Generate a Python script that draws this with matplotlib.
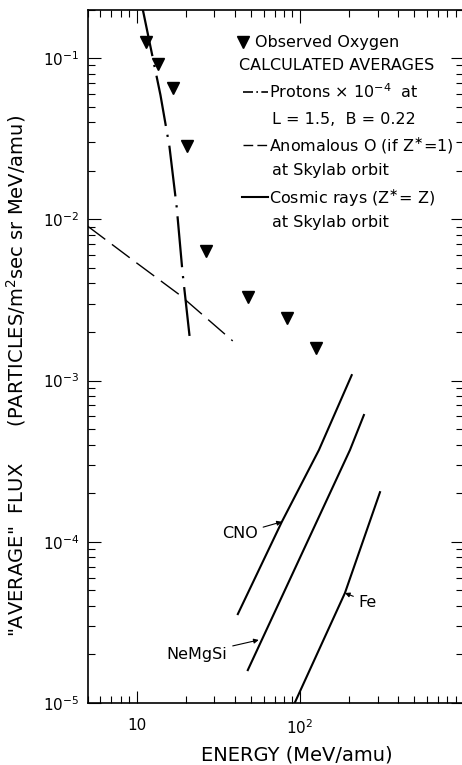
import numpy as np
import matplotlib
matplotlib.use('Agg')
import matplotlib.pyplot as plt
from matplotlib.lines import Line2D
from matplotlib.ticker import FixedLocator, LogLocator, NullFormatter

plt.rcParams['font.family'] = 'DejaVu Sans'
plt.rcParams['mathtext.default'] = 'regular'

# observed oxygen (triangles)
oxy_energy = [11.4, 13.6, 16.6, 20.3, 26.5, 48.0, 83.2, 125.0]
oxy_flux = [0.126, 0.092, 0.065, 0.0284, 0.0064, 0.0033, 0.00243, 0.0016]

# protons x 1e-4 at L=1.5, B=0.22
proton_energy = [10.8, 14.0, 15.9, 17.6, 19.1, 21.1]
proton_flux = [0.21, 0.0589, 0.0281, 0.0119, 0.00471, 0.00189]

# anomalous O (if Z*=1)
anom_energy = [5.0, 10.0, 18.4, 38.8]
anom_flux = [0.00908, 0.00536, 0.00339, 0.00176]

# cosmic rays (Z*=Z)
cno_energy = [41.7, 77.6, 131.0, 208.0]
cno_flux = [3.56e-5, 1.33e-4, 3.71e-4, 1.08e-3]
nemgsi_energy = [48.0, 203.0, 247.0]
nemgsi_flux = [1.60e-5, 3.71e-4, 6.11e-4]
fe_energy = [93.0, 189.0, 310.0]
fe_flux = [1.0e-5, 4.81e-5, 2.03e-4]

x_ticks = [10, 100]
x_ticklabels = ['10', r'$10^2$']
y_ticks = [1e-5, 1e-4, 1e-3, 1e-2, 1e-1]
y_ticklabels = [r'$10^{-5}$', r'$10^{-4}$', r'$10^{-3}$', r'$10^{-2}$', r'$10^{-1}$']

W, H = 462, 765
fig = plt.figure(figsize=(W / 100, H / 100), dpi=100)
ax = fig.add_axes([87.5 / W, 62 / H, 375.5 / W, 693.5 / H])
ax.set_xscale('log')
ax.set_yscale('log')
ax.set_xlim(5, 1000)
ax.set_ylim(1e-5, 0.2)

ax.plot(proton_energy, proton_flux, color='k', lw=1.6, linestyle=(0, (23, 4, 1, 4)))
ax.plot(anom_energy, anom_flux, color='k', lw=1.0, linestyle=(0, (16, 6)))
for e, f in [(cno_energy, cno_flux), (nemgsi_energy, nemgsi_flux), (fe_energy, fe_flux)]:
    ax.plot(e, f, color='k', lw=1.5)
ax.plot(oxy_energy, oxy_flux, 'v', color='k', ms=8.5, ls='none')

arrow = dict(arrowstyle='-|>', color='k', lw=0.8, mutation_scale=7, shrinkA=2, shrinkB=0)
ax.annotate('CNO', xy=(77.6, 1.33e-4), xytext=(42.9, 1.12e-4), ha='center', va='center',
            fontsize=11.5, arrowprops=arrow)
ax.annotate('NeMgSi', xy=(56.0, 2.46e-5), xytext=(23.4, 2.01e-5), ha='center', va='center',
            fontsize=11.5, arrowprops=arrow)
ax.annotate('Fe', xy=(189.0, 4.81e-5), xytext=(261.0, 4.23e-5), ha='center', va='center',
            fontsize=11.5, arrowprops=arrow)

ax.xaxis.set_major_locator(FixedLocator(x_ticks))
ax.set_xticklabels(x_ticklabels)
ax.xaxis.set_minor_locator(LogLocator(base=10, subs=np.arange(2, 10)))
ax.xaxis.set_minor_formatter(NullFormatter())
ax.yaxis.set_major_locator(FixedLocator(y_ticks))
ax.set_yticklabels(y_ticklabels)
ax.yaxis.set_minor_locator(LogLocator(base=10, subs=np.arange(2, 10)))
ax.yaxis.set_minor_formatter(NullFormatter())
ax.tick_params(which='both', direction='in', top=True, right=True, width=0.8, labelsize=11)
ax.tick_params(which='major', length=9)
ax.tick_params(which='minor', length=5)
ax.tick_params(axis='x', pad=11)
ax.tick_params(axis='y', pad=6)
for s in ax.spines.values():
    s.set_linewidth(1.2)

fig.text(16 / W, 1 - 376 / H,
         '"AVERAGE"  FLUX      (PARTICLES/m$^2$sec sr MeV/amu)',
         rotation=90, ha='center', va='center', fontsize=14)
fig.text(296.5 / W, 1 - 755 / H, 'ENERGY (MeV/amu)', ha='center', va='center', fontsize=14)

# legend block
def fx(x):
    return x / W

def fy(y):
    return 1 - y / H

fs = 11.5
fig.add_artist(Line2D([fx(243)], [fy(42)], marker='v', color='k', ms=8.5, ls='none'))
fig.text(fx(255), fy(42), 'Observed Oxygen', ha='left', va='center', fontsize=fs)
fig.text(fx(239), fy(65), 'CALCULATED AVERAGES', ha='left', va='center', fontsize=fs)
fig.add_artist(Line2D([fx(243), fx(268)], [fy(92), fy(92)], color='k', lw=1.2,
                      linestyle=(0, (6, 2, 1, 2))))
fig.text(fx(269), fy(92), r'Protons $\times$ 10$^{-4}$  at', ha='left', va='center', fontsize=fs)
fig.text(fx(272), fy(120), 'L = 1.5,  B = 0.22', ha='left', va='center', fontsize=fs)
fig.add_artist(Line2D([fx(243), fx(268)], [fy(145), fy(145)], color='k', lw=1.0,
                      linestyle=(0, (7, 3))))
fig.text(fx(269), fy(145), r'Anomalous O (if Z$^{\ast}$=1)', ha='left', va='center', fontsize=fs)
fig.text(fx(272), fy(170), 'at Skylab orbit', ha='left', va='center', fontsize=fs)
fig.add_artist(Line2D([fx(242), fx(268)], [fy(197), fy(197)], color='k', lw=1.5))
fig.text(fx(269), fy(197), r'Cosmic rays (Z$^{\ast}$= Z)', ha='left', va='center', fontsize=fs)
fig.text(fx(272), fy(222), 'at Skylab orbit', ha='left', va='center', fontsize=fs)

fig.savefig('out.png', dpi=100)
